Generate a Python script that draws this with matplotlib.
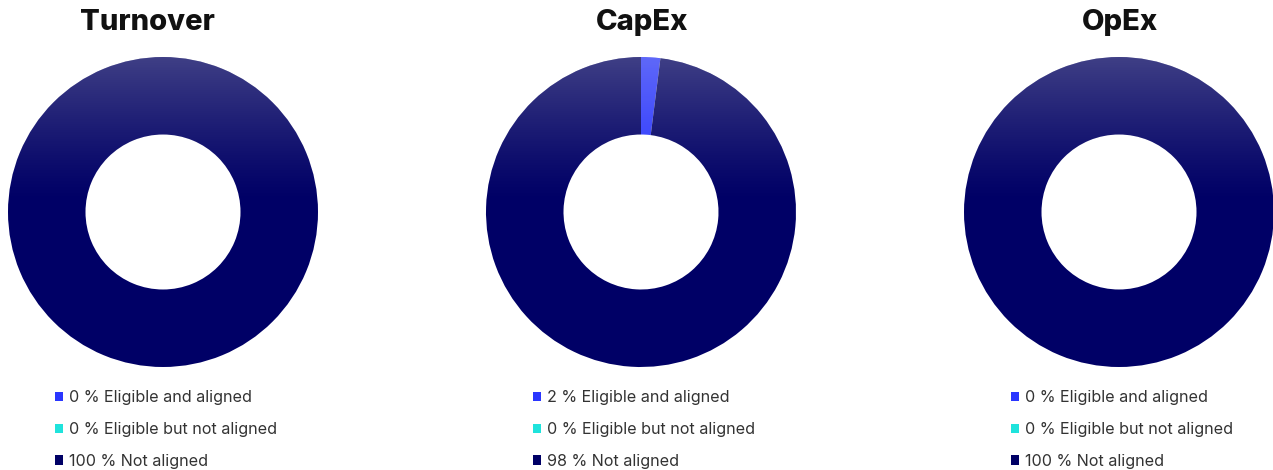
import numpy as np
import matplotlib
matplotlib.use("Agg")
import matplotlib.pyplot as plt
from matplotlib.patches import Wedge

# KPI shares (%) per indicator
titles = ["Turnover", "CapEx", "OpEx"]
categories = ["Eligible and aligned", "Eligible but not aligned", "Not aligned"]
turnover = [0, 0, 100]
capex = [2, 0, 98]
opex = [0, 0, 100]
series = [turnover, capex, opex]

colors = ["#2a36ff", "#1fe3dc", "#000066"]
text_color = "#333333"

W, H = 1273, 470
fig = plt.figure(figsize=(W / 100, H / 100), dpi=100)
fig.patch.set_facecolor("white")

centers_x = [163, 641, 1119]
title_x = [147, 642, 1120]
center_y = 212
R = 155

# vertical sheen: light at the top of each ring, fading out towards the middle
yy = np.linspace(1, -1, 400)[:, None] * np.ones((1, 400))
alpha = 0.25 * np.clip((yy - 0.05) / 0.95, 0, 1) ** 1.2
sheen = np.zeros((400, 400, 4))
sheen[..., 0] = 1.0
sheen[..., 1] = 1.0
sheen[..., 2] = 0.9
sheen[..., 3] = alpha

for i, (cx, vals) in enumerate(zip(centers_x, series)):
    ax = fig.add_axes([(cx - R) / W, (H - center_y - R) / H, 2 * R / W, 2 * R / H])
    wedges, _ = ax.pie(vals, colors=colors, startangle=90, counterclock=False,
                       radius=1, wedgeprops=dict(width=0.5, linewidth=0))
    ring = Wedge((0, 0), 1, 0, 360, width=0.5, transform=ax.transData)
    im = ax.imshow(sheen, extent=[-1, 1, -1, 1], zorder=5, interpolation="bilinear")
    im.set_clip_path(ring)
    ax.set_xlim(-1, 1)
    ax.set_ylim(-1, 1)
    ax.set_aspect("equal")
    ax.axis("off")

    fig.text(title_x[i] / W, 1 - 22 / H, titles[i], ha="center", va="center",
             fontsize=21, fontweight="heavy", family=["Inter", "DejaVu Sans"],
             color="#111111")

    labels = [f"{v} % {c}" for v, c in zip(vals, categories)]
    fig.legend(wedges, labels, loc="upper left",
               bbox_to_anchor=((cx - 108) / W, 1 - 390 / H),
               frameon=False, borderpad=0, borderaxespad=0,
               handlelength=0.52, handleheight=0.52, handletextpad=0.35,
               labelspacing=1.05, labelcolor=text_color,
               prop=dict(family=["Inter", "DejaVu Sans"], size=11.6))

fig.savefig("out.png", dpi=100, facecolor="white")
